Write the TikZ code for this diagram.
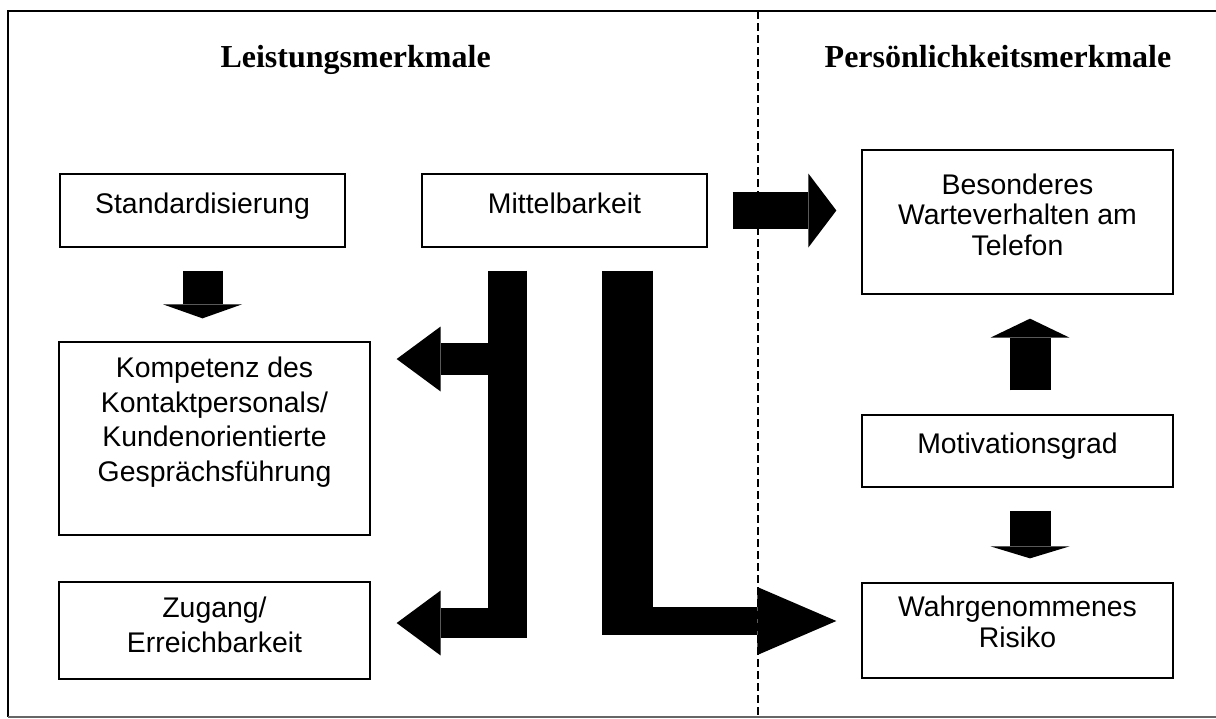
\documentclass[tikz,border=0pt]{standalone}
\usepackage{fontspec}
\setmainfont{Liberation Sans}
\newfontfamily\headfont{Liberation Serif}
\usetikzlibrary{arrows.meta,calc}

\begin{document}
\begin{tikzpicture}[x=1pt, y=-1pt,
	box/.style={draw, line width=1.3pt, inner sep=2pt, align=center, font=\fontsize{28.4}{34.5}\selectfont},
	rbox/.style={box, font=\fontsize{28.4}{30.5}\selectfont},
	head/.style={font=\headfont\bfseries\fontsize{32}{38}\selectfont},
	fat/.style n args={3}{line width=#1, -{Triangle[width=#2, length=#3, line width=0pt]}}]
	\useasboundingbox (0,0) rectangle (1216,718);
	% frame and divider
	\draw[line width=2pt] (1216,11) -- (8,11) -- (8,717);
	\draw[line width=1.2pt, black!60] (8,717) -- (1216,717);
	\draw[line width=1.2pt, dash pattern=on 8pt off 4pt] (758,11) -- (758,717);
	\node[head, anchor=base west] (lm) at (217,67) {Leistungsmerkmale};
	\node[head, anchor=base] (pm) at (998,67) {Persönlichkeitsmerkmale};
	% boxes
	\node[box, minimum width=285pt, minimum height=73pt, text height=21pt, text depth=16pt] (std) at (202.5,210.5) {Standardisierung};
	\node[box, minimum width=285pt, minimum height=73pt, text height=21pt, text depth=16pt] (mit) at (564.5,210.5) {Mittelbarkeit};
	\node[box, minimum width=311pt, minimum height=193pt, text height=124.5pt, text depth=39.5pt] (komp) at (214.5,438.5) {Kompetenz des\\Kontaktpersonals/\\Kundenorientierte\\Gesprächsführung};
	\node[box, minimum width=311pt, minimum height=97pt, text height=55.5pt, text depth=12.5pt] (zug) at (214.5,630.5) {Zugang/\\Erreichbarkeit};
	\node[rbox, minimum width=311pt, minimum height=144pt, text height=82pt, text depth=16pt] (bes) at (1017.5,222) {Besonderes\\Warteverhalten am\\Telefon};
	\node[rbox, minimum width=311pt, minimum height=72pt, text height=21pt, text depth=17pt] (mot) at (1017.5,451) {Motivationsgrad};
	\node[rbox, minimum width=311pt, minimum height=95pt, text height=51.5pt, text depth=18.5pt] (wahr) at (1017.5,630.5) {Wahrgenommenes\\Risiko};
	% straight arrows
	\draw[fat={40pt}{79pt}{14pt}, shorten <=23pt, shorten >=23pt] (std.south) -- (std.south |- komp.north);
	\draw[fat={37pt}{74pt}{28pt}, shorten <=25pt, shorten >=25pt] (mit.east) -- (mit.east -| bes.west);
	\draw[fat={41pt}{79pt}{19pt}, shorten <=24pt, shorten >=24pt] ($(mot.north)+(12.5,0)$) -- ($(bes.south)+(12.5,0)$);
	\draw[fat={41pt}{79pt}{12pt}, shorten <=23pt, shorten >=24pt] ($(mot.south)+(12.5,0)$) -- ($(wahr.north)+(12.5,0)$);
	% branches below Mittelbarkeit
	\coordinate (lbar) at ($(mit.south)+(-57,23)$);
	\coordinate (rbar) at ($(mit.south)+(63,23)$);
	\coordinate (kin) at ($(komp.east)+(26,-79.5)$);
	\coordinate (zin) at ($(zug.east)+(26,-7.5)$);
	\coordinate (win) at ($(wahr.west)+(-25,-9.5)$);
	\draw[line width=39pt] (lbar) -- ($(lbar |- zin)+(0,15)$);
	\draw[fat={32pt}{65pt}{44pt}] (kin -| lbar) -- (kin);
	\draw[fat={30pt}{65pt}{44pt}] (zin -| lbar) -- (zin);
	\draw[line width=51pt] (rbar) -- ($(rbar |- win)+(0,14)$);
	\draw[fat={28pt}{68pt}{79pt}] ($(rbar |- win)+(-25.5,0)$) -- (win);
\end{tikzpicture}
\end{document}
